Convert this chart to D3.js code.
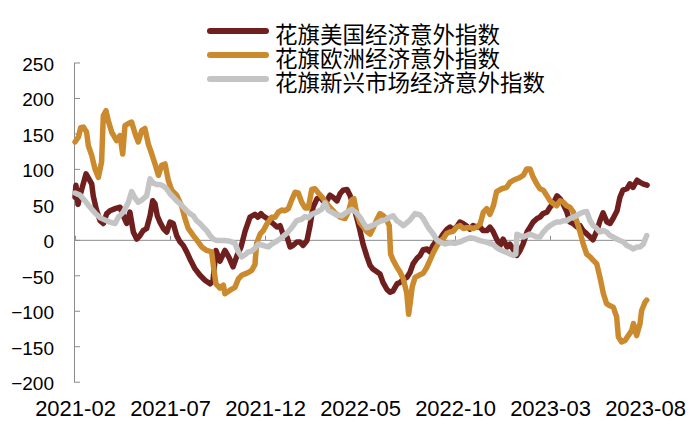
<!DOCTYPE html>
<html lang="zh">
<head>
    <meta charset="UTF-8">
    <title>花旗经济意外指数</title>
    <script src="https://cdn.jsdelivr.net/npm/d3@7"></script>
    <style>
        html, body {
            margin: 0;
            background: #fff;
        }
        #chart {
            width: 700px;
            height: 432px;
        }
    </style>
</head>
<body>
<div id="chart"></div>
<script>

    // x positions are months counted from 2021-02
    var tickMonths = [0, 5, 10, 15, 20, 25, 30];
    var tickLabels = ["2021-02", "2021-07", "2021-12", "2022-05", "2022-10", "2023-03", "2023-08"];
    var yTicks = [-200, -150, -100, -50, 0, 50, 100, 150, 200, 250];

    var seriesNames = ["花旗美国经济意外指数", "花旗欧洲经济意外指数", "花旗新兴市场经济意外指数"];
    var seriesColors = ["#6e1f1e", "#cc8a2f", "#c4c4c4"];

    // 花旗美国经济意外指数
    var usData = [
        [0,60],[0.05,77],[0.16,50],[0.26,62],[0.58,93],[0.88,79],[0.96,62],[1.14,41],[1.32,27],[1.49,23],
        [1.67,37],[1.84,41],[2.11,44],[2.37,46],[2.54,34],[2.72,23],[2.89,39],[3.07,11],[3.25,1],[3.42,6],
        [3.59,13],[3.77,16],[3.95,34],[4.09,55],[4.21,51],[4.33,34],[4.47,25],[4.65,16],[4.83,11],[5.0,25],
        [5.17,23],[5.35,6],[5.53,-3],[5.7,-8],[5.88,-17],[6.05,-27],[6.32,-41],[6.58,-50],[6.84,-57],[7.11,-62],
        [7.26,-58],[7.42,-15],[7.63,-30],[7.89,-15],[8.11,-25],[8.32,-38],[8.53,-22],[8.74,-10],[8.95,12],[9.21,32],
        [9.47,36],[9.63,32],[9.79,37],[9.89,34],[10.11,30],[10.26,27],[10.42,23],[10.63,18],[10.79,20],[10.95,8],
        [11.16,4],[11.32,-10],[11.47,-8],[11.68,-3],[11.84,-3],[12.0,-8],[12.21,-1],[12.37,20],[12.53,46],[12.74,58],
        [12.89,60],[13.05,55],[13.26,55],[13.42,63],[13.58,60],[13.79,55],[13.95,65],[14.11,70],[14.32,71],[14.47,63],
        [14.63,50],[14.84,30],[15.0,13],[15.16,-6],[15.37,-24],[15.53,-36],[15.68,-41],[15.89,-45],[16.05,-48],[16.21,-60],
        [16.42,-70],[16.58,-74],[16.74,-72],[16.95,-62],[17.11,-60],[17.26,-56],[17.47,-53],[17.63,-46],[17.79,-34],[18.0,-26],
        [18.16,-22],[18.32,-14],[18.53,-13],[18.68,-17],[18.84,-8],[19.05,0],[19.21,1],[19.37,8],[19.58,15],[19.74,18],
        [19.89,14],[20.11,19],[20.26,25],[20.42,23],[20.63,19],[20.79,15],[20.95,20],[21.16,18],[21.32,18],[21.47,13],
        [21.68,13],[21.84,18],[22.0,12],[22.21,0],[22.37,-8],[22.53,1],[22.74,-10],[22.89,-6],[23.05,-13],[23.26,-22],
        [23.42,-15],[23.58,-6],[23.79,11],[23.95,18],[24.11,25],[24.32,30],[24.47,32],[24.63,37],[24.84,39],[25.0,46],
        [25.16,51],[25.37,62],[25.53,58],[25.68,51],[25.89,39],[26.05,25],[26.21,23],[26.42,18],[26.58,20],[26.74,13],
        [26.95,8],[27.11,4],[27.26,0],[27.47,13],[27.63,27],[27.79,38],[28.0,25],[28.16,23],[28.32,30],[28.53,41],
        [28.68,60],[28.84,70],[29.05,72],[29.21,79],[29.37,74],[29.58,84],[29.74,81],[29.89,79],[30.11,77]
    ];

    // 花旗欧洲经济意外指数
    var euData = [
        [0,138],[0.18,145],[0.3,158],[0.44,159],[0.61,152],[0.7,133],[0.88,119],[1.05,100],[1.23,88],[1.4,110],
        [1.49,175],[1.63,182],[1.75,168],[1.93,152],[2.19,140],[2.37,147],[2.51,121],[2.63,161],[2.81,164],[2.98,166],
        [3.16,150],[3.33,138],[3.51,154],[3.68,157],[3.86,135],[4.04,121],[4.21,107],[4.39,91],[4.56,105],[4.74,107],
        [4.91,84],[5.09,70],[5.35,63],[5.61,48],[5.79,30],[5.96,16],[6.23,6],[6.49,-3],[6.67,-10],[6.93,-15],
        [7.19,-17],[7.3,-40],[7.42,-62],[7.63,-68],[7.81,-64],[7.89,-76],[8.16,-71],[8.42,-67],[8.6,-55],[8.77,-50],
        [8.95,-48],[9.12,-46],[9.3,-43],[9.47,-35],[9.56,-5],[9.74,8],[9.91,13],[10.09,22],[10.35,32],[10.53,32],
        [10.7,39],[10.88,42],[11.05,41],[11.23,44],[11.4,56],[11.58,67],[11.75,66],[11.93,53],[12.11,45],[12.28,45],
        [12.46,71],[12.63,72],[12.81,66],[12.98,61],[13.16,54],[13.42,46],[13.68,38],[13.95,32],[14.21,30],[14.39,40],
        [14.56,56],[14.68,58],[14.82,38],[15.0,24],[15.18,18],[15.35,12],[15.53,8],[15.7,17],[15.88,28],[16.05,37],
        [16.23,34],[16.4,28],[16.54,20],[16.61,-20],[16.75,-29],[16.93,-38],[17.1,-45],[17.28,-55],[17.46,-75],[17.56,-105],
        [17.66,-85],[17.75,-66],[17.9,-53],[18.1,-50],[18.33,-47],[18.51,-39],[18.68,-29],[18.86,-18],[19.04,-9],[19.21,-2],
        [19.39,2],[19.56,9],[19.74,11],[19.91,12],[20.09,18],[20.26,20],[20.44,16],[20.61,17],[20.79,17],[20.96,16],
        [21.14,18],[21.32,22],[21.49,39],[21.67,44],[21.84,36],[22.02,48],[22.19,68],[22.46,72],[22.72,74],[22.89,81],
        [23.07,84],[23.25,86],[23.42,88],[23.6,91],[23.77,100],[23.95,100],[24.12,88],[24.3,79],[24.47,72],[24.65,70],
        [24.82,63],[25.0,55],[25.18,51],[25.35,48],[25.53,55],[25.7,53],[25.88,48],[26.05,46],[26.23,39],[26.4,27],
        [26.58,11],[26.75,-6],[26.93,-20],[27.11,-24],[27.28,-29],[27.46,-34],[27.63,-53],[27.81,-76],[27.98,-90],[28.16,-93],
        [28.33,-95],[28.51,-109],[28.6,-137],[28.77,-144],[28.95,-142],[29.12,-135],[29.3,-128],[29.39,-118],[29.56,-135],[29.74,-118],
        [29.82,-100],[30.0,-88],[30.09,-85]
    ];

    // 花旗新兴市场经济意外指数
    var emData = [
        [0,66],[0.26,63],[0.53,55],[0.79,46],[1.05,38],[1.32,31],[1.58,28],[1.84,25],[2.11,23],[2.28,32],
        [2.54,39],[2.81,53],[2.98,68],[3.16,59],[3.33,53],[3.51,56],[3.77,62],[3.95,86],[4.12,80],[4.3,78],
        [4.47,78],[4.65,76],[4.82,72],[5.0,65],[5.18,60],[5.35,55],[5.53,51],[5.7,46],[5.88,41],[6.05,37],
        [6.23,34],[6.4,27],[6.58,23],[6.75,18],[6.93,13],[7.11,6],[7.28,1],[7.46,-1],[7.89,-1],[8.16,-2],
        [8.42,-5],[8.6,-17],[8.77,-24],[8.95,-21],[9.12,-17],[9.3,-16],[9.47,-12],[9.65,-6],[9.91,-8],[10.18,-10],
        [10.35,-6],[10.61,-2],[10.88,3],[11.14,9],[11.4,17],[11.67,27],[11.93,29],[12.11,33],[12.28,31],[12.46,36],
        [12.72,39],[12.98,43],[13.16,52],[13.33,42],[13.51,39],[13.77,35],[14.04,34],[14.3,39],[14.56,43],[14.82,38],
        [15.0,32],[15.16,25],[15.35,17],[15.53,19],[15.79,22],[16.05,26],[16.32,28],[16.5,31],[16.74,34],[16.93,27],
        [17.1,24],[17.28,20],[17.46,24],[17.63,28],[17.9,37],[18.16,35],[18.33,30],[18.6,17],[18.86,8],[19.04,0],
        [19.21,-3],[19.47,-6],[19.74,-4],[20.0,-5],[20.26,-3],[20.5,0],[20.79,3],[21.0,2],[21.32,-1],[21.6,-3],
        [21.84,-5],[22.02,-7],[22.19,-11],[22.37,-14],[22.55,-16],[22.72,-18],[22.89,-20],[23.07,-22],[23.2,-20],[23.26,8],
        [23.42,6],[23.6,4],[23.77,6],[23.95,8],[24.12,6],[24.3,4],[24.47,4],[24.65,11],[24.82,16],[25.0,20],
        [25.18,23],[25.35,25],[25.53,25],[25.7,27],[25.88,27],[26.05,30],[26.23,32],[26.4,34],[26.58,37],[26.75,39],
        [26.93,40],[27.11,27],[27.28,20],[27.46,16],[27.63,11],[27.81,13],[27.98,11],[28.16,6],[28.33,4],[28.51,1],
        [28.68,-1],[28.86,-3],[29.04,-8],[29.21,-10],[29.39,-13],[29.56,-10],[29.74,-10],[29.91,-6],[30.09,6]
    ];

    var allSeries = [usData, euData, emData];

    var width = 700;
    var height = 432;

    var svg = d3.select('#chart')
        .append('svg')
            .attr('width', width)
            .attr('height', height)
            .style('background', '#fff');

    var x = d3.scaleLinear()
        .domain([0, 30])
        .range([75, 645]);

    var y = d3.scaleLinear()
        .domain([-200, 250])
        .range([381.7, 62.5]);

    var axisColor = '#8c8c8c';

    // y axis, ticks pointing inward
    var yAxis = d3.axisLeft(y)
        .tickValues(yTicks)
        .tickSizeInner(-6)
        .tickSizeOuter(0)
        .tickPadding(20);

    var gy = svg.append('g')
        .attr('class', 'y axis')
        .attr('transform', 'translate(74,0)')
        .call(yAxis);

    gy.select('.domain').attr('stroke', axisColor);
    gy.selectAll('.tick line').attr('stroke', axisColor);
    gy.selectAll('.tick text')
        .attr('font-family', '"Liberation Sans", Arial, sans-serif')
        .attr('font-size', '19px')
        .attr('fill', '#000')
        .attr('dy', '0.42em');

    // x axis sits on the zero line
    var xAxis = d3.axisBottom(x)
        .tickValues(tickMonths)
        .tickFormat(function(d, i) { return tickLabels[i]; })
        .tickSizeInner(-4)
        .tickSizeOuter(0);

    var gx = svg.append('g')
        .attr('class', 'x axis')
        .attr('transform', 'translate(0,' + y(0) + ')')
        .call(xAxis);

    gx.select('.domain').attr('stroke', axisColor);
    gx.selectAll('.tick line').attr('stroke', axisColor);
    gx.selectAll('.tick text')
        .attr('font-family', '"Liberation Sans", Arial, sans-serif')
        .attr('font-size', '22px')
        .attr('fill', '#000')
        .attr('y', 416.5 - y(0))
        .attr('dy', 0);

    var line = d3.line()
        .x(function(d) { return x(d[0]); })
        .y(function(d) { return y(d[1]); });

    svg.append('g')
        .selectAll('path')
        .data(allSeries)
        .enter()
        .append('path')
            .attr('d', line)
            .attr('fill', 'none')
            .attr('stroke', function(d, i) { return seriesColors[i]; })
            .attr('stroke-width', 5.5)
            .attr('stroke-linejoin', 'round')
            .attr('stroke-linecap', 'round');

    // legend
    var legend = svg.append('g')
        .selectAll('g')
        .data(seriesNames)
        .enter()
        .append('g')
            .attr('transform', function(d, i) { return 'translate(208,' + (31 + i * 24) + ')'; });

    legend.append('line')
        .attr('x1', 2)
        .attr('x2', 58)
        .attr('stroke', function(d, i) { return seriesColors[i]; })
        .attr('stroke-width', 6)
        .attr('stroke-linecap', 'round');

    legend.append('text')
        .attr('x', 67)
        .attr('y', 2)
        .attr('dominant-baseline', 'central')
        .attr('font-family', '"Noto Sans CJK SC", sans-serif')
        .attr('font-size', '22.5px')
        .attr('fill', '#000')
        .text(function(d) { return d; });

</script>
</body>
</html>
